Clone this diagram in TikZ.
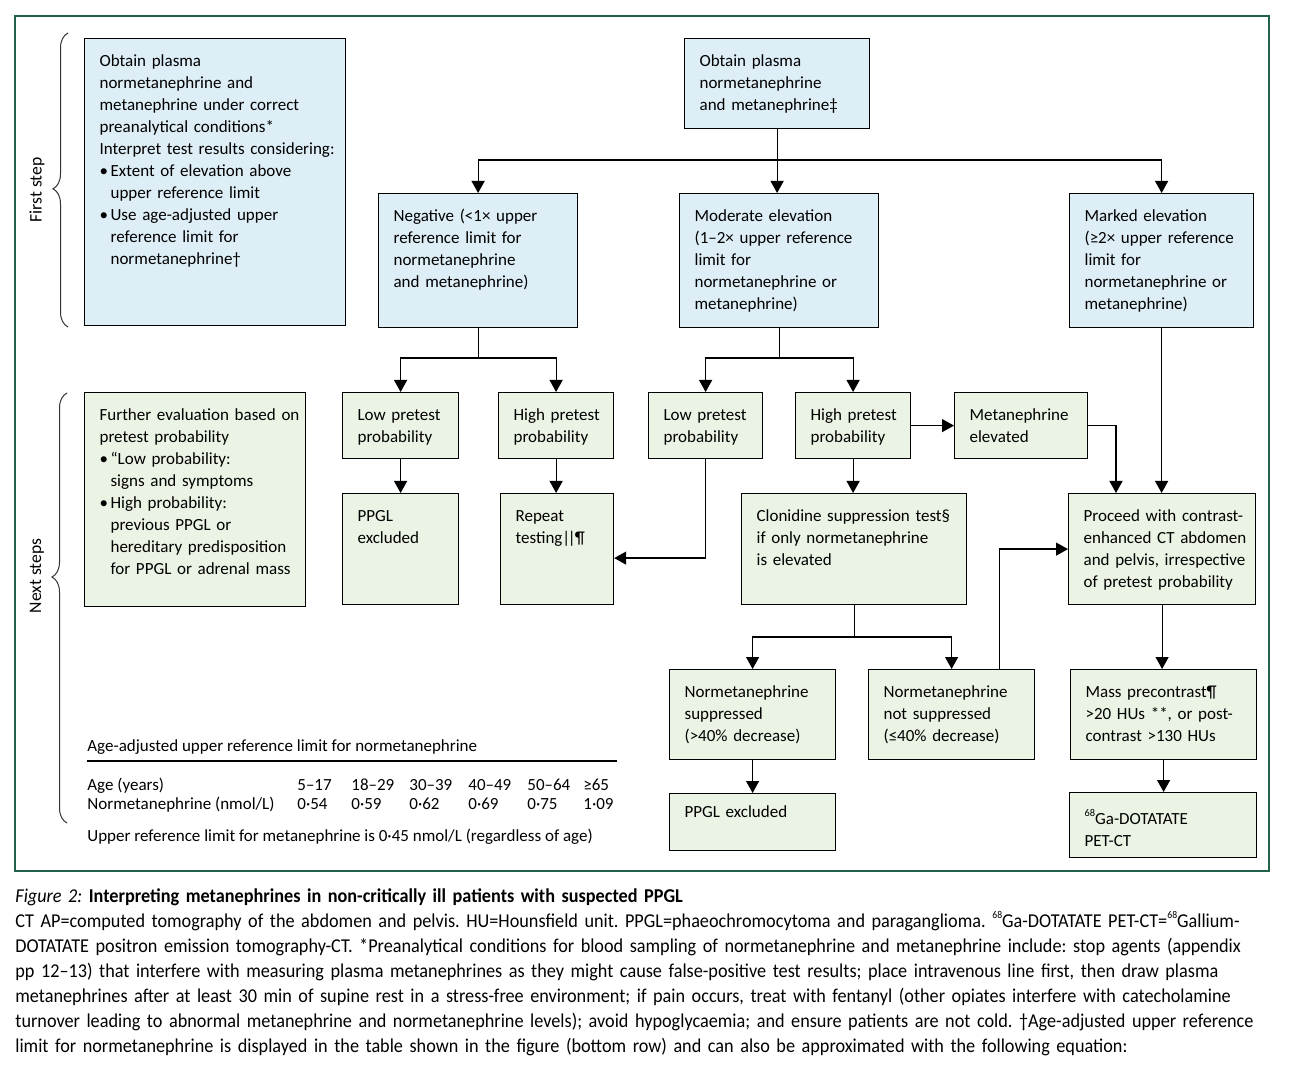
\documentclass[tikz,border=0pt]{standalone}
\usepackage{fontspec}
\setmainfont{Carlito}
\newfontfamily\capfont[FakeStretch=0.93]{Carlito}
\usepackage{tikz}
\usetikzlibrary{arrows.meta, positioning, calc, decorations.pathreplacing}
\frenchspacing

\definecolor{boxblue}{RGB}{221,238,246}
\definecolor{boxgreen}{RGB}{235,243,229}
\definecolor{framegreen}{RGB}{34,96,72}

\newcommand{\bitem}{\makebox[5.5pt][l]{\textbullet}}
\newcommand{\bindent}{\hspace*{5.5pt}}
\newcommand{\isotope}[1]{\raisebox{0.45em}{\fontsize{5.2}{5.2}\selectfont #1}}

\tikzset{
  box/.style={rectangle, draw=black, line width=0.6pt, anchor=north west,
              align=left, inner xsep=1pt, inner ysep=0pt,
              font=\fontsize{8.5}{11}\selectfont,
              execute at begin node={\let\\\par\parindent=0pt%
                \leftskip=6.5pt\rightskip=-15pt plus 1fil}},
  bluebox/.style={box, fill=boxblue},
  greenbox/.style={box, fill=boxgreen},
  sz/.style args={#1x#2}{text width={#1*0.5pt-2pt}, text height=14pt,
                         text depth={#2*0.5pt-14pt}},
  arr/.style={-{Triangle[length=6pt, width=6.5pt]}, line width=0.6pt},
  link/.style={line width=0.6pt},
  steplbl/.style={rotate=90, inner sep=0pt, font=\fontsize{8.8}{11}\selectfont},
  tabtxt/.style={anchor=base west, inner sep=0pt, font=\fontsize{8.5}{11}\selectfont},
  bracepath/.style={decorate, line width=0.5pt, draw=black!80},
}

\begin{document}
\begin{tikzpicture}[x=0.5pt, y=-0.5pt]
  \useasboundingbox[fill=white] (0,0) rectangle (1291,1069);
  \draw[framegreen, line width=0.7pt] (15,16) rectangle (1269,871);

  % Braces and step labels
  \draw[bracepath, decoration={brace, amplitude=7.5pt, aspect=0.47}]
    (68,327) -- (68,33);
  \node[steplbl] (lblfirst) at (37,190) {First step};
  \draw[bracepath, decoration={brace, amplitude=7.5pt, aspect=0.572}]
    (67,823) -- (67,393);
  \node[steplbl] (lblnext) at (37,576) {Next steps};

  % First step
  \node[bluebox, sz=185x90] (obtain) at (684,38)
    {Obtain plasma\\normetanephrine\\and metanephrine‡};
  \node[bluebox, sz=199x134] (neg) at (378,193)
    {Negative (<1× upper\\reference limit for\\normetanephrine\\and metanephrine)};
  \node[bluebox, sz=199x134] (modr) at (679,193)
    {Moderate elevation\\(1–2× upper reference\\limit for\\normetanephrine or\\metanephrine)};
  \node[bluebox, sz=184x134] (marked) at (1069,193)
    {Marked elevation\\(≥2× upper reference\\limit for\\normetanephrine or\\metanephrine)};
  \node[bluebox, sz=261x287] (info) at (84,38)
    {\begin{tabular}[t]{@{}l@{}}
       Obtain plasma\\normetanephrine and\\metanephrine under correct\\
       preanalytical conditions*\\Interpret test results considering:\\
       \bitem Extent of elevation above\\\bindent upper reference limit\\
       \bitem Use age-adjusted upper\\\bindent reference limit for\\
       \bindent normetanephrine†
     \end{tabular}};

  % Next steps
  \node[greenbox, sz=221x214] (further) at (84,392)
    {Further evaluation based on\\pretest probability\\\bitem “Low probability:\\\bindent signs and symptoms\\\bitem High probability:\\\bindent previous PPGL or\\\bindent hereditary predisposition\\\bindent for PPGL or adrenal mass};
  \node[greenbox, sz=116x66] (lowA) at (342,392) {Low pretest\\probability};
  \node[greenbox, sz=115x66] (highA) at (498,392) {High pretest\\probability};
  \node[greenbox, sz=116x111] (exclA) at (342,493) {PPGL\\excluded};
  \node[greenbox, sz=113x111] (repeat) at (500,493) {Repeat\\testing|\kern-1.2pt|\kern-0.4pt¶};
  \node[greenbox, sz=114x66] (lowB) at (648,392) {Low pretest\\probability};
  \node[greenbox, sz=115x66] (highB) at (795,392) {High pretest\\probability};
  \node[greenbox, sz=133x66] (metel) at (954,392) {Metanephrine\\elevated};
  \node[greenbox, sz=225x111] (clon) at (741,493)
    {Clonidine suppression test§\\if only normetanephrine\\is elevated};
  \node[greenbox, sz=187x111] (proceed) at (1068,493)
    {Proceed with contrast-\\enhanced CT abdomen\\and pelvis, irrespective\\of pretest probability};
  \node[greenbox, sz=166x90] (nsup) at (669,669)
    {Normetanephrine\\suppressed\\(>40\% decrease)};
  \node[greenbox, sz=166x90] (nnot) at (868,669)
    {Normetanephrine\\not suppressed\\(≤40\% decrease)};
  \node[greenbox, sz=186x90] (mass) at (1070,669)
    {Mass precontrast¶\\>20 HUs **, or post-\\contrast >130 HUs};
  \node[greenbox, sz=166x57, text height=12pt, text depth=16.5pt] (exclB) at (669,793)
    {PPGL excluded};
  \node[greenbox, sz=187x65, text height=16pt, text depth=16.5pt] (gapet) at (1069,792)
    {\isotope{68}Ga-DOTATATE\\PET-CT};

  % Arrows
  \coordinate (s1) at (obtain.south |- 0,160);
  \draw[arr] (obtain.south) -- (obtain.south |- modr.north);
  \draw[arr] (s1) -| (neg.north);
  \draw[arr] (s1) -| (marked.north);
  \coordinate (s2) at (neg.south |- 0,358);
  \draw[link] (neg.south) -- (s2);
  \draw[arr] (s2) -| (lowA.north);
  \draw[arr] (s2) -| (highA.north);
  \coordinate (s3) at (modr.south |- 0,358);
  \draw[link] (modr.south) -- (s3);
  \draw[arr] (s3) -| (lowB.north);
  \draw[arr] (s3) -| (highB.north);
  \draw[arr] (lowA.south) -- (exclA.north);
  \draw[arr] (highA.south) -- (highA.south |- repeat.north);
  \draw[arr] (lowB.south) |- ([yshift=-4.5pt]repeat.east);
  \draw[arr] (highB.south) -- (highB.south |- clon.north);
  \draw[arr] (highB.east) -- (metel.west);
  \draw[arr] (metel.east) -| ([xshift=24pt]proceed.north west);
  \draw[arr] (marked.south) -- (marked.south |- proceed.north);
  \coordinate (s4) at (clon.south |- 0,637);
  \draw[link] (clon.south) -- (s4);
  \draw[arr] (s4) -| (nsup.north);
  \draw[arr] (s4) -| (nnot.north);
  \draw[arr] ([xshift=-18pt]nnot.north east) |- (proceed.west);
  \draw[arr] (proceed.south) -- (proceed.south |- mass.north);
  \draw[arr] (nsup.south) -- (exclB.north);
  \draw[arr] (mass.south) -- (mass.south |- gapet.north);

  % Age table
  \node[tabtxt] (tabtitle) at (87,751)
    {Age-adjusted upper reference limit for normetanephrine};
  \draw[link] (87,761) -- (617,761);
  \node[tabtxt] (agehead) at (87,790) {Age (years)};
  \node[tabtxt] (valhead) at (87,809) {Normetanephrine (nmol/L)};
  \foreach \cx/\agelbl/\nmval [count=\i] in
      {297/5–17/0·54, 351/18–29/0·59, 409/30–39/0·62,
       468/40–49/0·69, 527/50–64/0·75, 583/≥65/1·09} {
    \node[tabtxt] (age\i) at (\cx,790) {\agelbl};
    \node[tabtxt] (val\i) at (\cx,809) {\nmval};
  }
  \node[tabtxt] (metnote) at (87,841)
    {Upper reference limit for metanephrine is 0·45 nmol/L (regardless of age)};

  % Caption
  \node[anchor=base west, inner sep=0pt, text width=660pt, align=left,
        font=\capfont\fontsize{9.8}{12.5}\selectfont] (caption) at (15,902)
    {\textit{Figure 2:} \textbf{Interpreting metanephrines in non-critically ill patients with suspected PPGL}\\
     CT AP=computed tomography of the abdomen and pelvis. HU=Hounsfield unit. PPGL=phaeochromocytoma and paraganglioma. \isotope{68}Ga-DOTATATE PET-CT=\isotope{68}Gallium-\\
     DOTATATE positron emission tomography-CT. *Preanalytical conditions for blood sampling of normetanephrine and metanephrine include: stop agents (appendix\\
     pp 12–13) that interfere with measuring plasma metanephrines as they might cause false-positive test results; place intravenous line first, then draw plasma\\
     metanephrines after at least 30 min of supine rest in a stress-free environment; if pain occurs, treat with fentanyl (other opiates interfere with catecholamine\\
     turnover leading to abnormal metanephrine and normetanephrine levels); avoid hypoglycaemia; and ensure patients are not cold. †Age-adjusted upper reference\\
     limit for normetanephrine is displayed in the table shown in the figure (bottom row) and can also be approximated with the following equation:};
\end{tikzpicture}
\end{document}
